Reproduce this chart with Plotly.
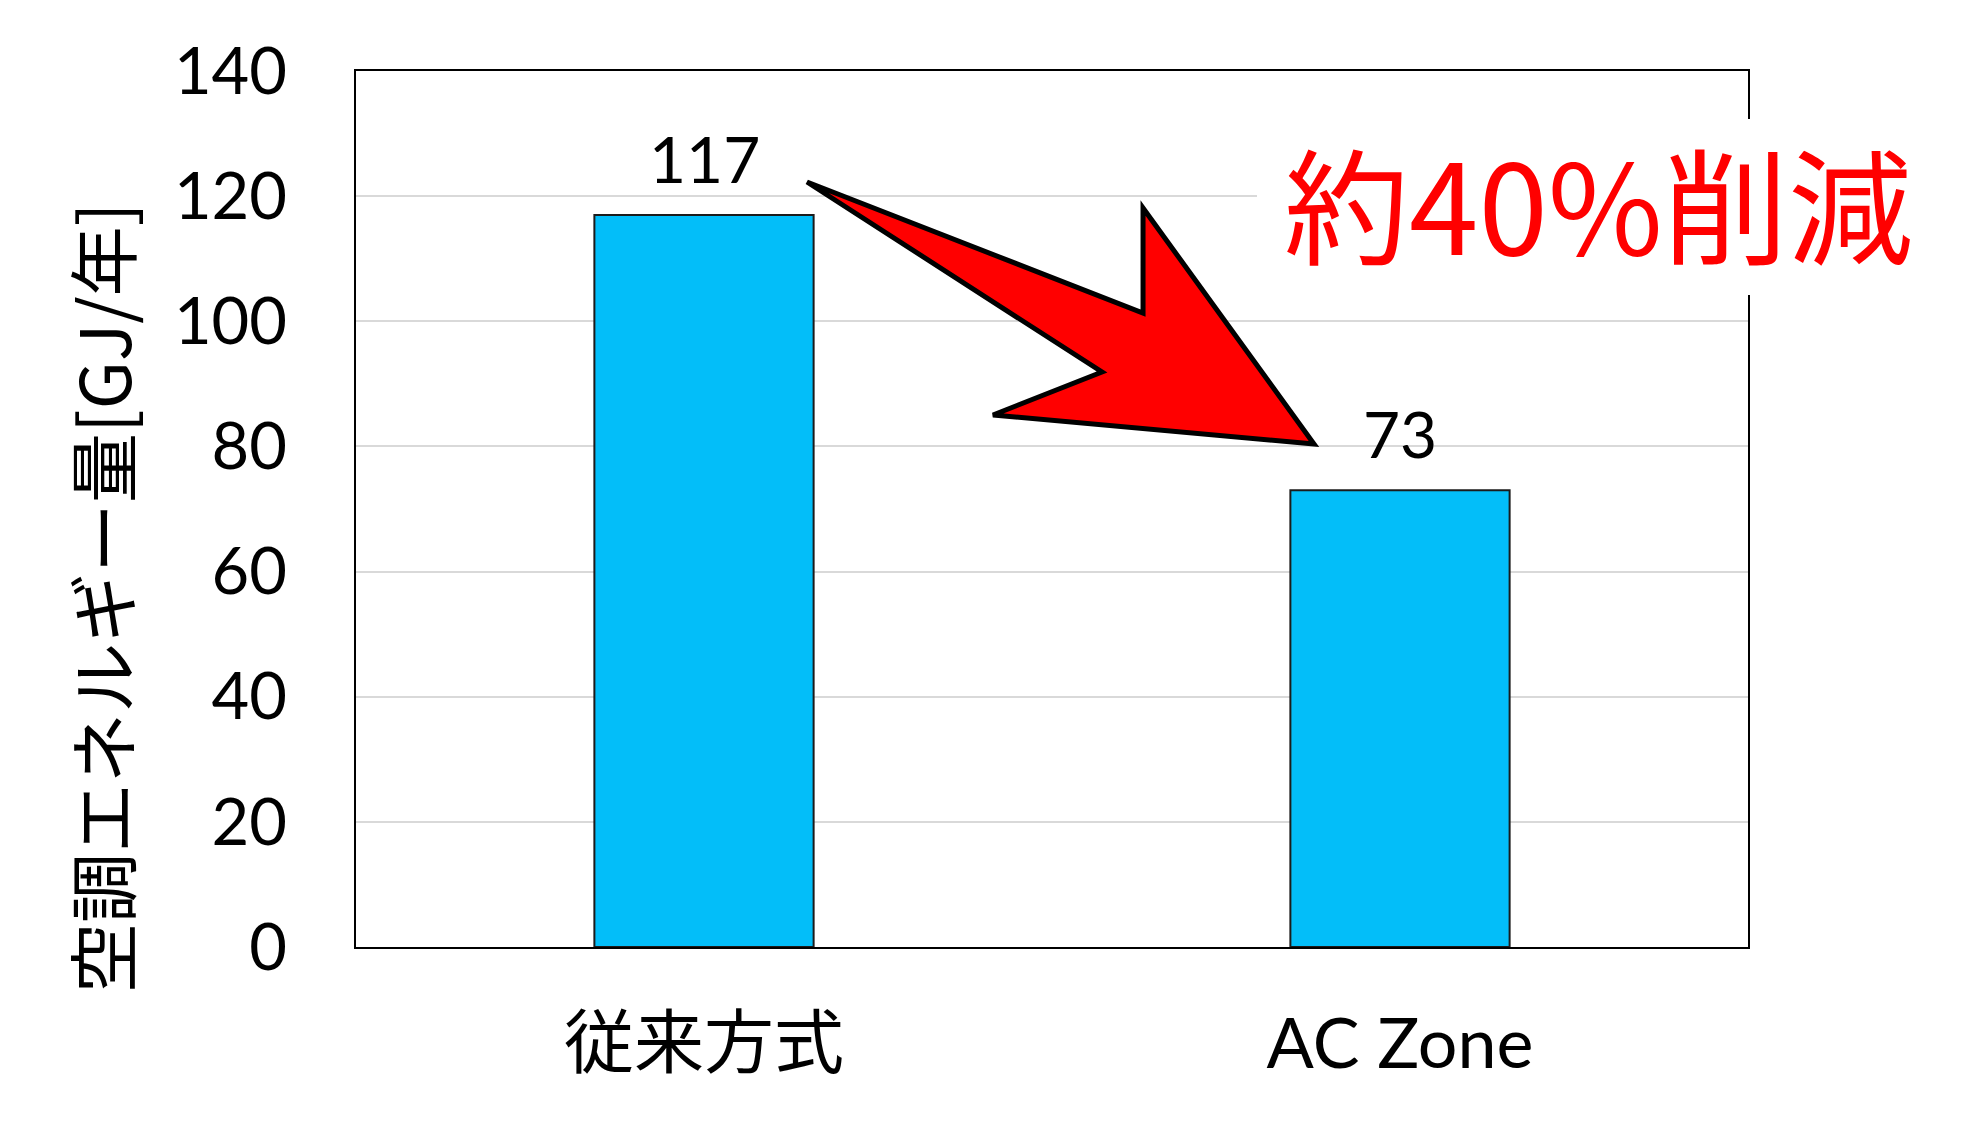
import plotly.graph_objects as go

categories = ["従来方式", "AC Zone"]
values = [117, 73]
y_ticks = [0, 20, 40, 60, 80, 100, 120, 140]
y_title = "空調エネルギー量[GJ/年]"
callout = "約40%削減"

OFF = 8  # default body margin of the page
W, H = 1972 - 2 * OFF, 1125 - 2 * OFF
L, R, T, B = 356, 1748, 71, 947  # plot area in page pixels


def px(x):
    return (x - L) / (R - L)


def py(y):
    return (B - y) / (B - T)


fig = go.Figure()
fig.add_trace(go.Bar(
    x=categories, y=values, width=0.315,
    marker=dict(color="#03BEF9", line=dict(color="#1B1B1B", width=2)),
    hoverinfo="skip",
))

# value labels
for c, v in zip(categories, values):
    fig.add_annotation(x=c, y=v, text=str(v), showarrow=False,
                       xanchor="center", yanchor="bottom", yshift=16,
                       font=dict(family="Lato, Noto Sans CJK JP", size=64, color="black"))

# y title
fig.add_annotation(xref="paper", yref="paper", x=px(101), y=py(598),
                   xanchor="center", yanchor="middle",
                   text=y_title, textangle=-90, showarrow=False,
                   font=dict(family="Noto Sans CJK JP", size=70, color="black"))

# arrow polygon (decoration)
pts = [(807, 182), (1143, 313), (1143, 208), (1314, 444), (993, 415), (1102, 372)]
path = "M " + " L ".join(f"{px(a):.4f},{py(b):.4f}" for a, b in pts) + " Z"
fig.add_shape(type="path", xref="paper", yref="paper", path=path,
              fillcolor="#FF0000", line=dict(color="black", width=5), layer="above")

# white box behind callout
fig.add_shape(type="rect", xref="paper", yref="paper",
              x0=px(1257), x1=px(1955), y0=py(295), y1=py(119),
              fillcolor="white", line=dict(width=0), layer="above")

fig.add_annotation(xref="paper", yref="paper", x=px(1598), y=py(201),
                   xanchor="center", yanchor="middle",
                   text=callout, showarrow=False,
                   font=dict(family="Noto Sans CJK JP", size=125, color="#FF0000"))

fig.update_layout(
    width=W, height=H,
    margin=dict(l=L - OFF, r=W - (R - OFF), t=T - OFF, b=H - (B - OFF), autoexpand=False),
    paper_bgcolor="white", plot_bgcolor="white",
    showlegend=False,
    xaxis=dict(type="category", range=[-0.5, 1.5], showline=True, mirror=True,
               linecolor="black", linewidth=2, showgrid=False, ticks="",
               tickfont=dict(family="Lato, Noto Sans CJK JP", size=70, color="black"),
               ticklabelstandoff=35),
    yaxis=dict(range=[0, 140], tickvals=y_ticks, showline=True, mirror=True,
               linecolor="black", linewidth=2, gridcolor="#D9D9D9", gridwidth=2,
               zeroline=False, ticks="",
               tickfont=dict(family="Lato", size=65, color="black"),
               ticklabelstandoff=54),
)

fig.write_html("out.html")
